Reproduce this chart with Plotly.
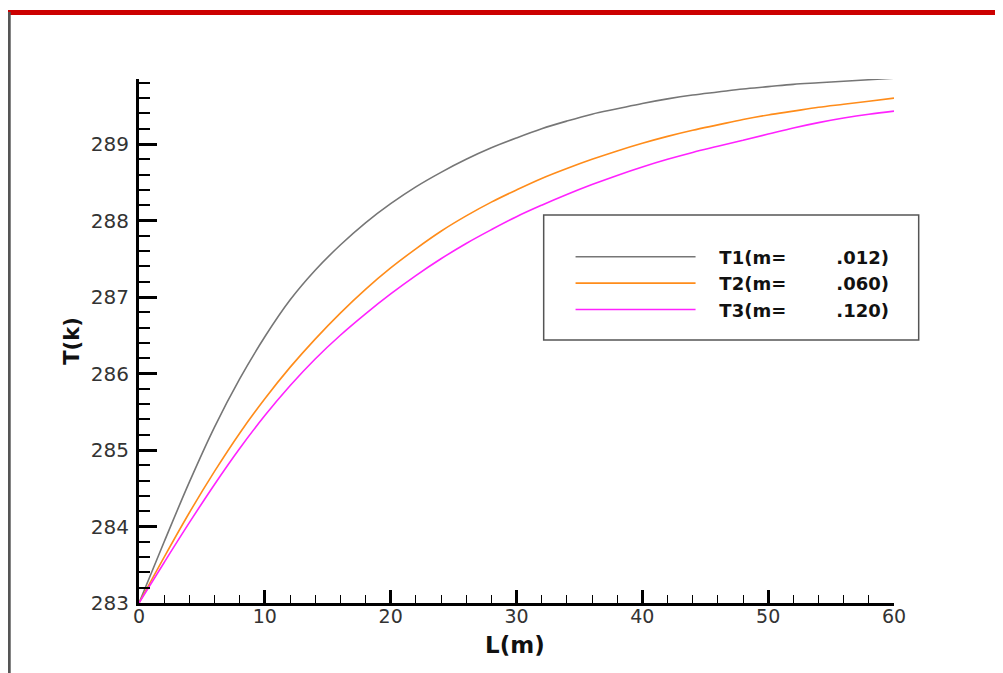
import plotly.graph_objects as go

# Distance along the channel, L (m)
L = [0, 2, 4, 6, 8, 10, 12, 14, 16, 18, 20, 22, 24, 26, 28, 30,
     32, 34, 36, 38, 40, 42, 44, 46, 48, 50, 52, 54, 56, 58, 60]

# Temperature T (K) for the three mass flow rates
T1 = [283.00, 283.80, 284.58, 285.30, 285.93, 286.48, 286.96, 287.35, 287.68, 287.97,
      288.22, 288.44, 288.63, 288.80, 288.95, 289.08, 289.20, 289.30, 289.39, 289.46,
      289.53, 289.59, 289.64, 289.68, 289.72, 289.75, 289.78, 289.80, 289.82, 289.84, 289.86]
T2 = [283.00, 283.60, 284.18, 284.72, 285.22, 285.67, 286.08, 286.45, 286.79, 287.10,
      287.38, 287.63, 287.86, 288.06, 288.24, 288.40, 288.55, 288.68, 288.80, 288.91,
      289.01, 289.10, 289.18, 289.25, 289.32, 289.38, 289.43, 289.48, 289.52, 289.56, 289.60]
T3 = [283.00, 283.53, 284.05, 284.55, 285.02, 285.45, 285.84, 286.19, 286.50, 286.78,
      287.04, 287.28, 287.50, 287.70, 287.88, 288.05, 288.20, 288.34, 288.47, 288.59,
      288.70, 288.80, 288.89, 288.97, 289.05, 289.13, 289.21, 289.28, 289.34, 289.39, 289.43]

SP = "\u00a0"
names = [SP * 3 + "T1(m=" + SP * 8 + ".012)",
         SP * 3 + "T2(m=" + SP * 8 + ".060)",
         SP * 3 + "T3(m=" + SP * 8 + ".120)"]
colors = ["#767676", "#ff8c1a", "#ff22ff"]
x_title = "L(m)"
y_title = "T(k)"

FONT = "DejaVu Sans"

fig = go.Figure()
for name, ys, c in zip(names, [T1, T2, T3], colors):
    fig.add_trace(go.Scatter(x=L, y=ys, mode="lines", name=name,
                             line=dict(color=c, width=1.6, shape="spline")))

fig.update_layout(
    width=995, height=665,
    margin=dict(l=131, r=109, t=71, b=70),
    paper_bgcolor="white", plot_bgcolor="white",
    font=dict(family=FONT, color="#222"),
    showlegend=True,
    legend=dict(x=0.5716, y=0.6956, xanchor="left", yanchor="top",
                bgcolor="rgba(0,0,0,0)", borderwidth=0,
                itemwidth=120, tracegroupgap=0,
                font=dict(family=FONT, size=18, color="#111", weight="bold")),
    xaxis=dict(range=[0, 60], tick0=0, dtick=10, showgrid=False, zeroline=False,
               showline=True, linecolor="black", linewidth=3,
               ticks="inside", ticklen=13, tickwidth=3, tickcolor="black",
               tickfont=dict(family=FONT, size=19, color="#333"),
               ticklabelstandoff=-6,
               minor=dict(dtick=2, ticks="inside", ticklen=8, tickwidth=1.2,
                          tickcolor="black", showgrid=False)),
    yaxis=dict(range=[283, 289.85], tick0=283, dtick=1, showgrid=False, zeroline=False,
               showline=True, linecolor="black", linewidth=3,
               ticks="inside", ticklen=18, tickwidth=3, tickcolor="black",
               tickfont=dict(family=FONT, size=20, color="#333"),
               ticklabelstandoff=3,
               minor=dict(dtick=0.2, ticks="inside", ticklen=11, tickwidth=1.5,
                          tickcolor="black", showgrid=False),
               title=dict(text=y_title, standoff=6,
                          font=dict(family=FONT, size=21, color="#111", weight="bold"))),
    annotations=[
        dict(text=x_title, xref="paper", yref="paper", x=0.4976, y=-0.081,
             xanchor="center", yanchor="middle", showarrow=False,
             font=dict(family=FONT, size=23, color="#111", weight="bold")),
    ],
    shapes=[
        # legend frame
        dict(type="rect", xref="paper", yref="paper",
             x0=0.536, x1=1.0327, y0=0.5019, y1=0.7405,
             line=dict(color="#555", width=1.5), fillcolor="rgba(0,0,0,0)"),
        # window decoration: red top bar and grey left edge
        dict(type="rect", xref="paper", yref="paper",
             x0=-0.18, x1=1.15, y0=1.1221, y1=1.1317,
             line=dict(width=0), fillcolor="#cc0000"),
        dict(type="line", xref="paper", yref="paper",
             x0=-0.1719, x1=-0.1719, y0=-0.15, y1=1.128,
             line=dict(color="#555", width=3)),
    ],
)

fig.write_html("out.html")
